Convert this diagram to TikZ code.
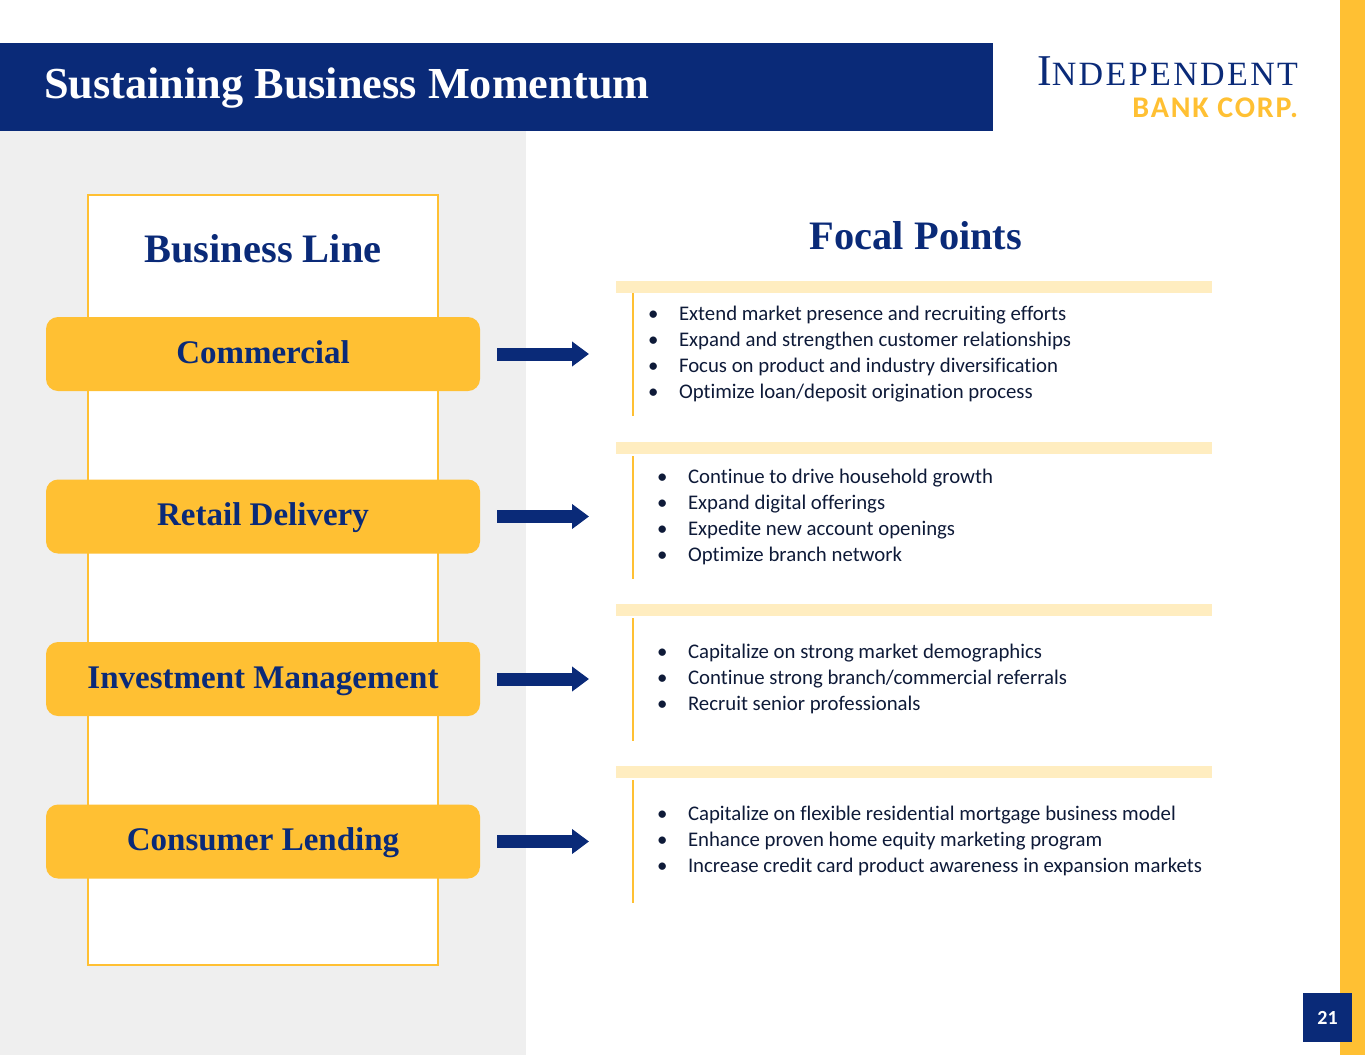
\documentclass[tikz,border=0pt]{standalone}
\usepackage{fontspec}
\setmainfont{Carlito}[Ligatures=NoCommon]
\newfontfamily\headfont{Liberation Serif}
\newfontfamily\logoserif[LetterSpace=7]{Liberation Serif}
\newfontfamily\logosans[LetterSpace=6]{Carlito}
\usetikzlibrary{arrows.meta,positioning}
\definecolor{navy}{HTML}{0A2A78}
\definecolor{gold}{HTML}{FFC033}
\definecolor{paleband}{HTML}{FFEDC0}
\definecolor{panel}{HTML}{EFEFEF}
\definecolor{bodyink}{HTML}{0E1A38}
\newcommand{\bul}{\makebox[30pt][l]{\hspace*{-1pt}\textbullet}}
\tikzset{
every node/.style={inner sep=0pt,outer sep=0pt},
pill/.style={fill=gold,rounded corners=12pt,minimum width=434pt,minimum height=74pt,
 text height=26pt,text depth=8pt,text=navy,font=\headfont\bfseries\fontsize{33}{38}\selectfont},
band/.style={fill=paleband,minimum width=596pt,minimum height=12pt,anchor=north west},
focal/.style={minimum width=579pt,minimum height=123pt,anchor=north west},
points/.style={align=left,anchor=west,text=bodyink,font=\fontsize{20.8}{26}\selectfont},
head/.style={text=navy,font=\headfont\bfseries\fontsize{40.4}{44}\selectfont},
lead/.style={-{Triangle[length=17pt,width=24pt]},navy,line width=13pt,shorten <=17pt,shorten >=44pt}
}
\begin{document}
\begin{tikzpicture}[x=1pt,y=-1pt,node distance=162.5pt]
\useasboundingbox (0,0) rectangle (1365,1055);

\fill[panel] (0,131) rectangle (526,1055);
\fill[navy] (0,43) rectangle (993,131);
\fill[gold] (1340,0) rectangle (1365,1055);

\node[anchor=west,text=white,font=\headfont\bfseries\fontsize{44.3}{48}\selectfont] (title) at (44,88) {Sustaining Business Momentum};

% logo
\node[anchor=base east,text=navy,font=\logoserif\fontsize{34}{36}\selectfont] (logoA) at (1298,85) {{\fontsize{44}{44}\selectfont I}NDEPENDENT};
\node[anchor=base east,text=gold,font=\logosans\bfseries\fontsize{30}{32}\selectfont] (logoB) at (1298,117) {BANK CORP.};

\node[draw=gold,line width=2pt,fill=white,minimum width=350pt,minimum height=770pt,anchor=north west] (frame) at (88,195) {};
\node[head] (bizhead) at (263,249) {Business Line};
\node[head] (focalhead) at (916,236) {Focal Points};

\node[pill] (comm) at (263,354) {Commercial};
\node[pill] (retail) [below of=comm] {Retail Delivery};
\node[pill] (invest) [below of=retail] {Investment Management};
\node[pill] (cons) [below of=invest] {Consumer Lending};

\node[band] (bandA) at (616,281) {};
\node[band] (bandB) at (616,442) {};
\node[band] (bandC) at (616,604) {};
\node[band] (bandD) at (616,766) {};

\node[focal] (boxA) at (633,293) {};
\node[focal] (boxB) at (633,456) {};
\node[focal] (boxC) at (633,618) {};
\node[focal] (boxD) at (633,780) {};

\foreach \b in {boxA,boxB,boxC,boxD}
 \draw[gold,line width=2pt] (\b.north west) -- (\b.south west);

\node[points] (ptsA) at (649,354) {\bul Extend market presence and recruiting efforts\\
\bul Expand and strengthen customer relationships\\
\bul Focus on product and industry diversification\\
\bul Optimize loan/deposit origination process};
\node[points] (ptsB) at (658,517) {\bul Continue to drive household growth\\
\bul Expand digital offerings\\
\bul Expedite new account openings\\
\bul Optimize branch network};
\node[points] (ptsC) at (658,679) {\bul Capitalize on strong market demographics\\
\bul Continue strong branch/commercial referrals\\
\bul Recruit senior professionals};
\node[points] (ptsD) at (658,841) {\bul Capitalize on flexible residential mortgage business model\\
\bul Enhance proven home equity marketing program\\
\bul Increase credit card product awareness in expansion markets};

\draw[lead] (comm.east) -- (comm.east -| boxA.west);
\draw[lead] (retail.east) -- (retail.east -| boxB.west);
\draw[lead] (invest.east) -- (invest.east -| boxC.west);
\draw[lead] (cons.east) -- (cons.east -| boxD.west);

\node[fill=navy,text=white,minimum size=49pt,font=\bfseries\fontsize{20}{22}\selectfont] (pageno) at (1327.5,1017.5) {21};
\end{tikzpicture}
\end{document}
